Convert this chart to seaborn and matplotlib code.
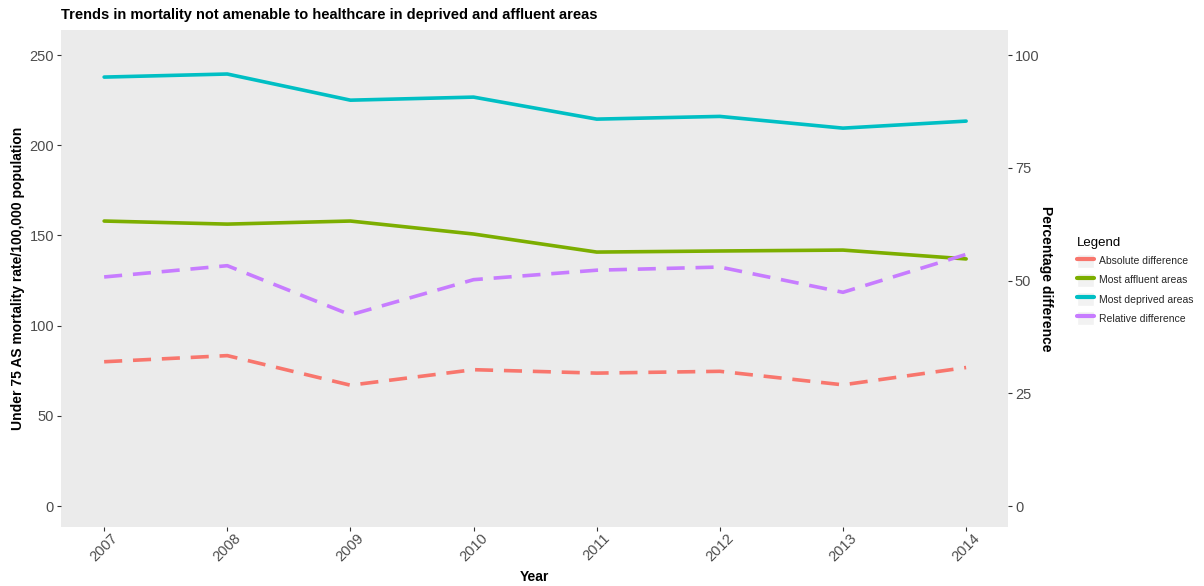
import matplotlib
matplotlib.use('Agg')
import matplotlib.pyplot as plt
from matplotlib.lines import Line2D
from matplotlib.patches import Rectangle
from matplotlib.legend_handler import HandlerTuple
import pandas as pd
import seaborn as sns

years = [2007, 2008, 2009, 2010, 2011, 2012, 2013, 2014]
most_deprived = [237.8, 239.5, 225.0, 226.7, 214.5, 216.0, 209.5, 213.4]
most_affluent = [158.0, 156.3, 158.0, 150.8, 140.8, 141.4, 141.9, 137.0]
absolute_diff = [80.0, 83.4, 67.0, 75.6, 73.7, 74.7, 67.2, 76.8]
relative_diff = [50.8, 53.3, 42.4, 50.2, 52.3, 53.0, 47.4, 55.8]

series_names = ['Absolute difference', 'Most affluent areas',
                'Most deprived areas', 'Relative difference']
colors = ['#F8766D', '#7CAE00', '#00BFC4', '#C77CFF']

sns.set_theme(style='white')
plt.rcParams['font.family'] = ['Liberation Sans', 'DejaVu Sans']

rate = pd.DataFrame({
    'Year': years * 3,
    'value': absolute_diff + most_affluent + most_deprived,
    'series': [series_names[0]] * 8 + [series_names[1]] * 8 + [series_names[2]] * 8,
})
pct = pd.DataFrame({'Year': years, 'value': relative_diff,
                    'series': series_names[3]})

fig = plt.figure(figsize=(12.04, 5.86), dpi=100)
ax = fig.add_axes([0.0507, 0.1007, 0.7865, 0.8481])
ax.set_facecolor('#EBEBEB')
for s in ax.spines.values():
    s.set_visible(False)

lw = 2.6
sns.lineplot(data=rate[rate.series == series_names[0]], x='Year', y='value',
             color=colors[0], lw=lw, ax=ax, legend=False)
ax.lines[-1].set_dashes((5, 3))
sns.lineplot(data=rate[rate.series == series_names[1]], x='Year', y='value',
             color=colors[1], lw=lw, ax=ax, legend=False)
sns.lineplot(data=rate[rate.series == series_names[2]], x='Year', y='value',
             color=colors[2], lw=lw, ax=ax, legend=False)

ylo, yhi = -11.6, 263.9
ax.set_ylim(ylo, yhi)
ax.set_xlim(2006.65, 2014.34)

ax2 = ax.twinx()
for s in ax2.spines.values():
    s.set_visible(False)
sns.lineplot(data=pct, x='Year', y='value', color=colors[3], lw=lw,
             ax=ax2, legend=False)
ax2.lines[-1].set_dashes((5, 3))
ax2.set_ylim(ylo * 0.4, yhi * 0.4)
ax2.set_yticks([0, 25, 50, 75, 100])

ax.set_yticks([0, 50, 100, 150, 200, 250])
ax.set_xticks(years)
ax.set_xticklabels([str(y) for y in years], rotation=45)

tick_kw = dict(length=3, width=0.8, color='#333333', labelcolor='#4D4D4D',
               labelsize=10.5)
ax.tick_params(axis='y', direction='out', left=True, pad=2, **tick_kw)
ax.tick_params(axis='x', direction='out', bottom=True, pad=0, **tick_kw)
ax2.tick_params(axis='y', direction='out', right=True, pad=2, **tick_kw)

lab = dict(fontsize=10, fontweight='bold', color='black')
ax.set_xlabel('Year', labelpad=4, **lab)
ax.set_ylabel('Under 75 AS mortality rate/100,000 population', labelpad=3, **lab)
ax2.set_ylabel('Percentage difference', rotation=-90, labelpad=10, **lab)
ax.set_title('Trends in mortality not amenable to healthcare in deprived and affluent areas',
             loc='left', fontsize=10.5, fontweight='bold', color='black', pad=8)

handles = [(Rectangle((0, 0), 1, 1, facecolor='#F2F2F2', edgecolor='white', lw=1),
            Line2D([0], [0], color=c, lw=3)) for c in colors]
leg = fig.legend(handles, series_names, title='Legend', loc='center left',
                 bbox_to_anchor=(0.887, 0.52), frameon=False, fontsize=7.5,
                 title_fontsize=9.5, handlelength=1.6, handleheight=1.75,
                 handletextpad=0.5, labelspacing=0.45,
                 handler_map={tuple: HandlerTuple(ndivide=1, pad=0)})
leg._legend_box.align = 'left'
leg.get_title().set_color('black')

fig.savefig('out.png', dpi=100)
